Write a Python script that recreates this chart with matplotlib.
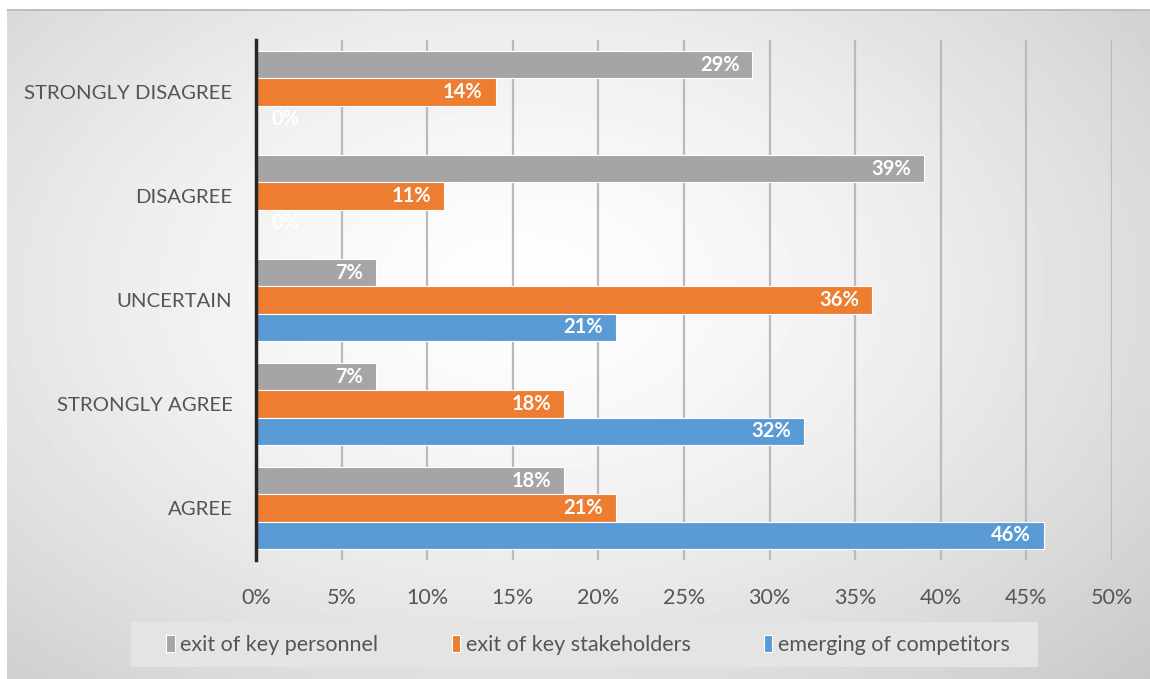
import numpy as np
import matplotlib
matplotlib.use("Agg")
import matplotlib.pyplot as plt
from matplotlib.patches import Rectangle

plt.rcParams['font.family'] = ['Lato', 'DejaVu Sans']

# data (bottom -> top on the chart)
categories = ["AGREE", "STRONGLY AGREE", "UNCERTAIN", "DISAGREE", "STRONGLY DISAGREE"]
personnel = [18, 7, 7, 39, 29]
stakeholders = [21, 18, 36, 11, 14]
competitors = [46, 32, 21, 0, 0]
series_names = ["exit of key personnel", "exit of key stakeholders", "emerging of competitors"]
xticks = [0, 5, 10, 15, 20, 25, 30, 35, 40, 45, 50]

colors = ["#A5A5A5", "#ED7D31", "#5B9BD5"]
text_col = "#555555"

fig = plt.figure(figsize=(11.5, 6.79), dpi=100)
fig.patch.set_facecolor("white")

# gradient background of the chart area
bg = fig.add_axes([7 / 1150, 0, 1 - 7 / 1150, 1 - 9 / 679])
gx, gy = np.meshgrid(np.linspace(0, 1, 300), np.linspace(0, 1, 200))
r = np.sqrt(((gx - 0.45) / 0.75) ** 2 + ((gy - 0.42) / 0.85) ** 2)
shade = 0.995 - 0.21 * np.clip(r, 0, 1.2) ** 1.5
bg.imshow(shade, cmap="gray", vmin=0, vmax=1, aspect="auto", extent=[0, 1, 0, 1], origin="upper")
bg.axhline(1, color="#bdbdbd", lw=2)
bg.set_axis_off()

ax = fig.add_axes([256 / 1150, 1 - 560 / 679, (1112 - 256) / 1150, 520 / 679])
ax.patch.set_alpha(0)

y = np.arange(len(categories))
h = 0.26
groups = [(personnel, h), (stakeholders, 0), (competitors, -h)]
for (vals, off), c, name in zip(groups, colors, series_names):
    bars = ax.barh(y + off, vals, height=h, color=c, edgecolor="white", linewidth=0.8, label=name, zorder=3)
    for b, v in zip(bars, vals):
        cy = b.get_y() + b.get_height() / 2
        if v == 0:
            b.set_linewidth(0)
            ax.annotate(f"{v}%", (0, cy), xytext=(15, 0), textcoords="offset pixels",
                        ha="left", va="center", color="white", fontsize=14.5, fontweight="bold", zorder=4)
        else:
            ax.annotate(f"{v}%", (v, cy), xytext=(-13, 0), textcoords="offset pixels",
                        ha="right", va="center", color="white", fontsize=14.5, fontweight="bold", zorder=4)

ax.set_xlim(0, 50)
ax.set_ylim(-0.5, len(categories) - 0.5)
ax.set_xticks(xticks)
ax.set_xticklabels([f"{t}%" for t in xticks])
ax.set_yticks(y)
ax.set_yticklabels(categories)
for t in xticks[1:]:
    ax.axvline(t, color="#bababa", lw=1.6, zorder=1)
ax.tick_params(axis="x", length=0, labelsize=15.5, labelcolor=text_col, pad=20)
ax.tick_params(axis="y", length=0, labelsize=14.7, labelcolor=text_col, pad=17)
for s in ["top", "right", "bottom"]:
    ax.spines[s].set_visible(False)
ax.spines["left"].set_color("#262626")
ax.spines["left"].set_linewidth(2.5)
ax.spines["left"].set_zorder(5)

# legend box
fig.patches.append(Rectangle((131 / 1150, 1 - 667 / 679), (1038 - 131) / 1150, 45 / 679,
                             transform=fig.transFigure, facecolor="#e4e4e4", edgecolor="none", zorder=1))
leg = fig.legend(loc="center", bbox_to_anchor=(588 / 1150, 1 - 645 / 679), ncol=3, frameon=False,
                 fontsize=15.5, handlelength=0.4, handleheight=0.8, handletextpad=0.25, columnspacing=3.4,
                 labelcolor=text_col)

fig.savefig("out.png", dpi=100)
